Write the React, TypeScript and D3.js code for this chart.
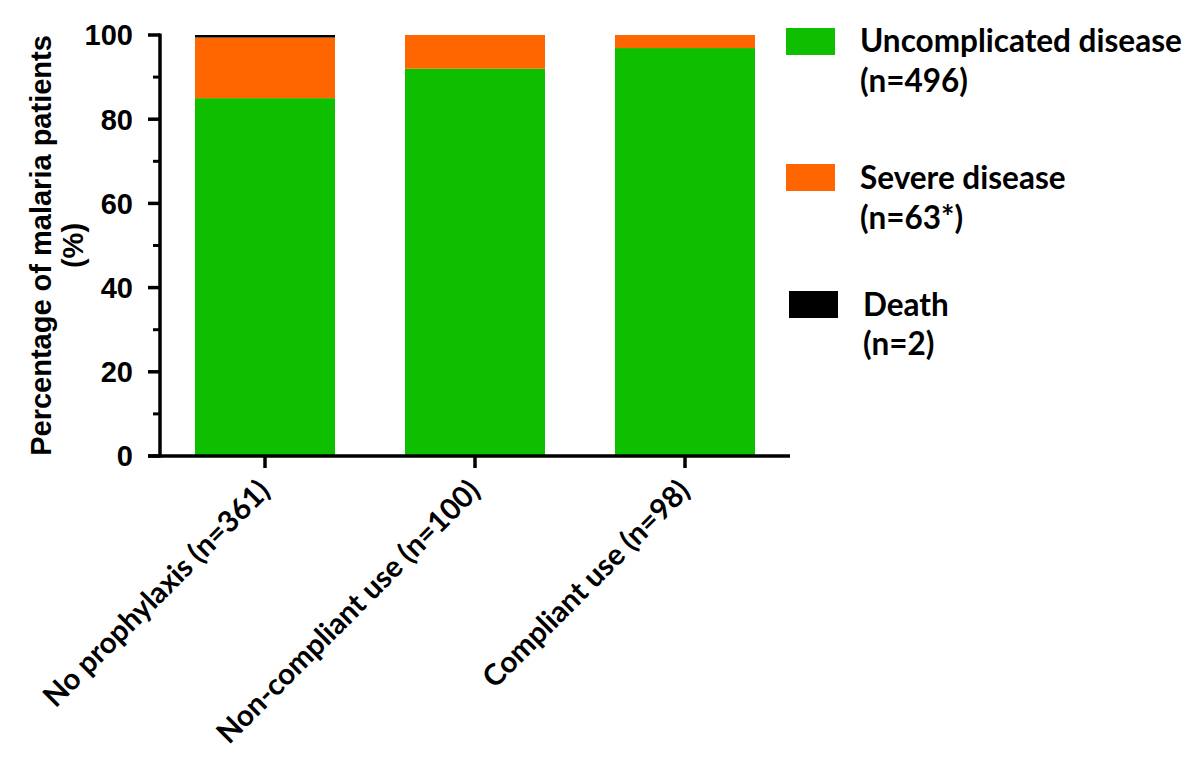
import React from "react";
import * as d3 from "d3";

const categories = ["No prophylaxis (n=361)", "Non-compliant use (n=100)", "Compliant use (n=98)"];
const uncomplicated = [85.0, 92.0, 96.9];
const severe = [14.4, 8.0, 3.1];
const death = [0.6, 0, 0];
const seriesNames = ["Uncomplicated disease", "Severe disease", "Death"];
const seriesCounts = ["(n=496)", "(n=63*)", "(n=2)"];
const seriesColors = ["#0ebf00", "#ff6600", "#000000"];
const yTicks = [0, 20, 40, 60, 80, 100];
const yMinorTicks = [10, 30, 50, 70, 90];

export default function App() {
  const W = 1200, H = 770;
  const x = d3.scaleBand<string>().domain(categories).range([160, 790]).paddingInner(1 / 3).paddingOuter(1 / 6);
  const y = d3.scaleLinear().domain([0, 100]).range([456, 35]);
  const rows = categories.map((c, i) => ({ cat: c, u: uncomplicated[i], s: severe[i], d: death[i] }));
  const stack = d3.stack<any>().keys(["u", "s", "d"])(rows);
  const axisX = 160;
  const legendFont = "Lato, 'Open Sans', sans-serif";
  const tickFont = "'Liberation Sans', Arial, sans-serif";
  const legendRects = [
    { x: 786, y: 28 },
    { x: 786, y: 164 },
    { x: 789, y: 291 },
  ];
  const legendText = [
    { x: 860, y1: 52, y2: 92 },
    { x: 860, y1: 189, y2: 229 },
    { x: 863, y1: 316, y2: 355 },
  ];
  return (
    <svg width={W} height={H} style={{ position: "absolute", left: 0, top: 0, background: "#fff" }}>
      {stack.map((layer, li) =>
        layer.map((seg, i) =>
          seg[1] - seg[0] > 0 ? (
            <rect
              key={li + "-" + i}
              x={x(categories[i])}
              width={x.bandwidth()}
              y={y(seg[1])}
              height={y(seg[0]) - y(seg[1])}
              fill={seriesColors[li]}
            />
          ) : null
        )
      )}
      {/* y axis */}
      <line x1={axisX} x2={axisX} y1={y(100) - 1.5} y2={y(0) + 1.5} stroke="#000" strokeWidth={3.5} />
      {yTicks.map((t) => (
        <g key={t}>
          <line x1={148} x2={axisX} y1={y(t)} y2={y(t)} stroke="#000" strokeWidth={3.5} />
          <text
            x={133}
            y={y(t)}
            dy="0.36em"
            textAnchor="end"
            fontFamily={tickFont}
            fontWeight="bold"
            fontSize={29}
          >
            {t}
          </text>
        </g>
      ))}
      {yMinorTicks.map((t) => (
        <line key={t} x1={153} x2={axisX} y1={y(t)} y2={y(t)} stroke="#000" strokeWidth={3} />
      ))}
      {/* x axis */}
      <line x1={148} x2={790} y1={y(0)} y2={y(0)} stroke="#000" strokeWidth={3.5} />
      {categories.map((c) => {
        const cx = x(c)! + x.bandwidth() / 2;
        return (
          <g key={c}>
            <line x1={cx} x2={cx} y1={y(0)} y2={y(0) + 12} stroke="#000" strokeWidth={3.5} />
            <text
              transform={`translate(${cx - 8},${y(0) + 22}) rotate(-45)`}
              textAnchor="end"
              dy="0.7em"
              fontFamily={legendFont}
              fontWeight="bold"
              fontSize={29.5}
            >
              {c}
            </text>
          </g>
        );
      })}
      {/* y title */}
      <g transform={`translate(51,${(y(0) + y(100)) / 2}) rotate(-90)`}>
        <text textAnchor="middle" fontFamily={tickFont} fontWeight="bold" fontSize={29}>
          Percentage of malaria patients
        </text>
        <text y={32} textAnchor="middle" fontFamily={tickFont} fontWeight="bold" fontSize={29}>
          (%)
        </text>
      </g>
      {/* legend */}
      {seriesNames.map((n, i) => (
        <g key={n}>
          <rect x={legendRects[i].x} y={legendRects[i].y} width={49} height={27} fill={seriesColors[i]} />
          <text x={legendText[i].x} y={legendText[i].y1} fontFamily={legendFont} fontWeight="bold" fontSize={31.5}>
            {n}
          </text>
          <text x={legendText[i].x} y={legendText[i].y2} fontFamily={legendFont} fontWeight="bold" fontSize={31.5}>
            {seriesCounts[i]}
          </text>
        </g>
      ))}
    </svg>
  );
}
